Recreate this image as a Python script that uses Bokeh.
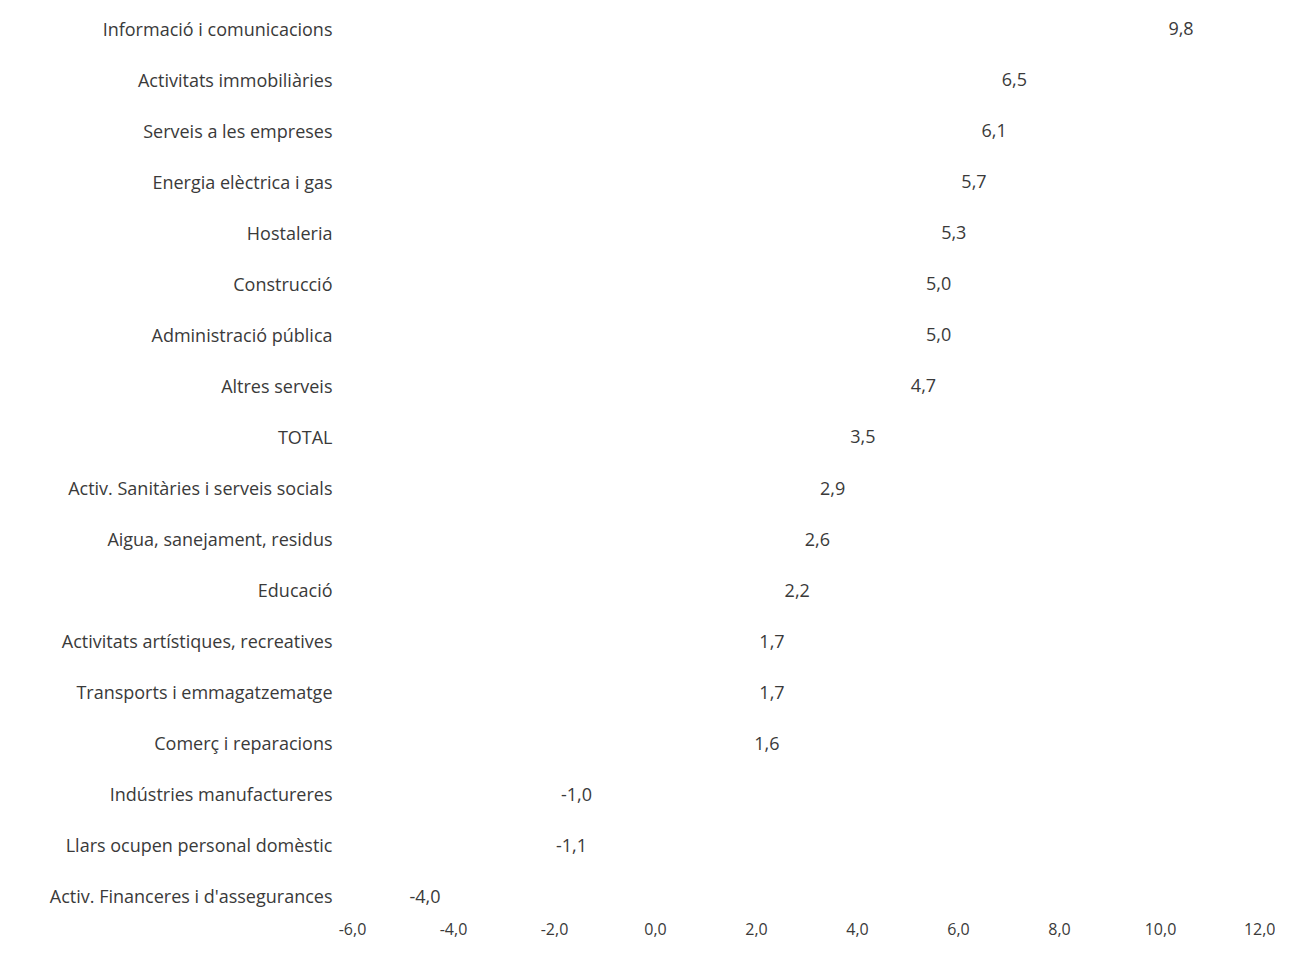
from bokeh.plotting import figure
from bokeh.models import ColumnDataSource, FactorRange, FixedTicker
from bokeh.core.properties import value
from bokeh.embed import file_html
from bokeh.resources import INLINE

categories = [
    "Informació i comunicacions",
    "Activitats immobiliàries",
    "Serveis a les empreses",
    "Energia elèctrica i gas",
    "Hostaleria",
    "Construcció",
    "Administració pública",
    "Altres serveis",
    "TOTAL",
    "Activ. Sanitàries i serveis socials",
    "Aigua, sanejament, residus",
    "Educació",
    "Activitats artístiques, recreatives",
    "Transports i emmagatzematge",
    "Comerç i reparacions",
    "Indústries manufactureres",
    "Llars ocupen personal domèstic",
    "Activ. Financeres i d'assegurances",
]
values = [9.8, 6.5, 6.1, 5.7, 5.3, 5.0, 5.0, 4.7, 3.5, 2.9, 2.6, 2.2, 1.7, 1.7, 1.6, -1.0, -1.1, -4.0]
x_ticks = [-6, -4, -2, 0, 2, 4, 6, 8, 10, 12]
x_tick_labels = ["-6,0", "-4,0", "-2,0", "0,0", "2,0", "4,0", "6,0", "8,0", "10,0", "12,0"]

FONT = "Open Sans"
TEXT_COLOR = "#3a3a3a"

labels = [f"{v:.1f}".replace(".", ",") for v in values]
aligns = ["left" if v >= 0 else "right" for v in values]
offsets = [18 if v >= 0 else -13 for v in values]

src = ColumnDataSource(dict(cat=categories, val=values, lab=labels,
                            align=aligns, off=offsets))

y_range = FactorRange(factors=list(reversed(categories)),
                      range_padding=-0.2, range_padding_units="absolute")

p = figure(width=1275, height=943, y_range=y_range, x_range=(-6, 12),
           output_backend="svg", toolbar_location=None,
           min_border_left=352, min_border_right=14, min_border_top=13,
           min_border_bottom=32)

p.hbar(y="cat", right="val", left=0, height=0.6, source=src,
       fill_color="white", line_color=None)

p.text(x="val", y="cat", text="lab", source=src, text_align="align",
       x_offset="off", text_baseline="middle",
       text_font=value(FONT), text_font_size="18px", text_color=TEXT_COLOR)

p.outline_line_color = None
p.xgrid.visible = False
p.ygrid.visible = False
p.background_fill_color = "white"
p.border_fill_color = "white"

p.xaxis.ticker = FixedTicker(ticks=x_ticks)
p.xaxis.major_label_overrides = {t: l for t, l in zip(x_ticks, x_tick_labels)}
p.xaxis.axis_line_color = None
p.xaxis.major_tick_line_color = None
p.xaxis.minor_tick_line_color = None
p.xaxis.major_tick_out = 0
p.xaxis.major_tick_in = 0
p.xaxis.major_label_standoff = 11
p.xaxis.major_label_text_font = FONT
p.xaxis.major_label_text_font_size = "16px"
p.xaxis.major_label_text_color = TEXT_COLOR

p.yaxis.axis_line_color = None
p.yaxis.major_tick_line_color = None
p.yaxis.major_tick_out = 0
p.yaxis.major_tick_in = 0
p.yaxis.major_label_standoff = 20
p.yaxis.major_label_text_font = FONT
p.yaxis.major_label_text_font_size = "18px"
p.yaxis.major_label_text_color = TEXT_COLOR

open("out.html", "w").write(file_html(p, INLINE))
